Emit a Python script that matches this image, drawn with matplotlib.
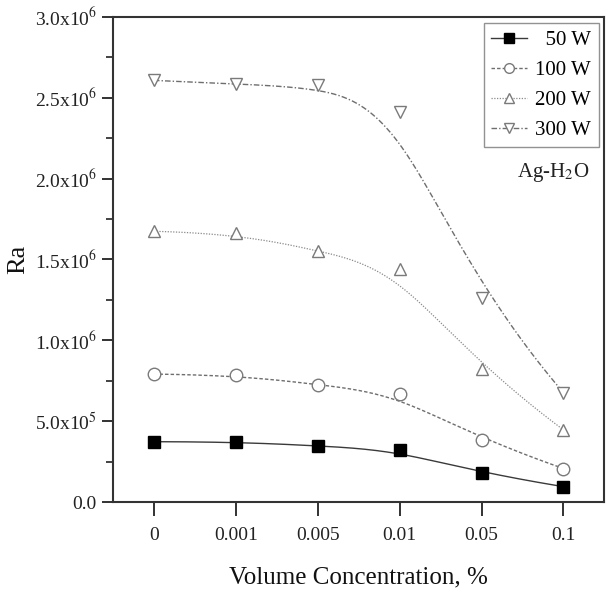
import numpy as np
import matplotlib
matplotlib.use("Agg")
import matplotlib.pyplot as plt
from matplotlib.ticker import MultipleLocator, FuncFormatter

plt.rcParams['font.family'] = 'serif'
plt.rcParams['font.serif'] = ['Liberation Serif', 'DejaVu Serif']
plt.rcParams['mathtext.fontset'] = 'stix'

# data
concentrations = ["0", "0.001", "0.005", "0.01", "0.05", "0.1"]
ra_50w = [3.73e5, 3.72e5, 3.47e5, 3.20e5, 1.78e5, 0.95e5]
ra_100w = [7.91e5, 7.85e5, 7.25e5, 6.69e5, 3.84e5, 2.07e5]
ra_200w = [1.674e6, 1.661e6, 1.554e6, 1.438e6, 8.22e5, 4.46e5]
ra_300w = [2.607e6, 2.583e6, 2.576e6, 2.411e6, 1.264e6, 6.76e5]


def bspline(cx, cy, n=300, k=3):
    # clamped B-spline using the data points as control points
    cx = np.asarray(cx, float)
    cy = np.asarray(cy, float)
    m = len(cx)
    t = np.concatenate([[0.0] * k, np.linspace(0, 1, m - k + 1), [1.0] * k])
    u = np.linspace(0, 1, n)
    u[-1] -= 1e-9
    N = np.array([(u >= t[i]) & (u < t[i + 1]) for i in range(len(t) - 1)], float)
    for d in range(1, k + 1):
        Nn = np.zeros((len(t) - 1 - d, n))
        for i in range(len(t) - 1 - d):
            a = t[i + d] - t[i]
            b = t[i + d + 1] - t[i + 1]
            left = (u - t[i]) / a * N[i] if a > 0 else 0
            right = (t[i + d + 1] - u) / b * N[i + 1] if b > 0 else 0
            Nn[i] = left + right
        N = Nn
    return N.T @ cx, N.T @ cy


fig = plt.figure(figsize=(6.09, 5.92), dpi=100)
ax = fig.add_axes([0.1855, 0.152, 0.807, 0.8196])

x = np.arange(len(concentrations))
series = [
    (ra_50w, "  50 W", "s", "black", "#3a3a3a", "-", 1.0),
    (ra_100w, "100 W", "o", "white", "#6e6e6e", (0, (2.5, 1.5)), 1.0),
    (ra_200w, "200 W", "^", "white", "#8a8a8a", (0, (1, 1.2)), 0.9),
    (ra_300w, "300 W", "v", "white", "#6e6e6e", (0, (4, 1.5, 1, 1.5)), 1.0),
]
handles = []
for vals, label, mk, mfc, col, ls, lw in series:
    mec = "black" if mk == "s" else "#7a7a7a"
    sx, sy = bspline(x, vals)
    ax.plot(sx, sy, color=col, linestyle=ls, linewidth=lw, zorder=2)
    ax.plot(x, vals, linestyle="none", marker=mk, markersize=9,
            markerfacecolor=mfc, markeredgecolor=mec, markeredgewidth=1.0, zorder=3)
    h, = ax.plot([], [], color=col, linestyle=ls, linewidth=lw, marker=mk, markersize=7,
                 markerfacecolor=mfc, markeredgecolor=mec, label=label)
    handles.append(h)

ax.set_xlim(-0.5, 5.5)
ax.set_ylim(0, 3.0e6)
ax.set_xticks(x)
ax.set_xticklabels(concentrations)
ax.yaxis.set_major_locator(MultipleLocator(5e5))
ax.yaxis.set_minor_locator(MultipleLocator(2.5e5))


def fmt(v, pos):
    if abs(v) < 1:
        return "0.0"
    if v < 0:
        return ""
    e = int(np.floor(np.log10(v)))
    return f"{v / 10 ** e:.1f}x10$^{{{e}}}$"


ax.yaxis.set_major_formatter(FuncFormatter(fmt))
ax.tick_params(axis='both', which='major', direction='out', length=8, width=1.3,
               labelsize=14, colors='#222222')
ax.tick_params(axis='x', which='major', length=10, pad=8)
ax.tick_params(axis='y', which='minor', direction='out', length=5, width=1.2, colors='#222222')
for s in ax.spines.values():
    s.set_linewidth(1.5)
    s.set_color('#333333')

ax.set_xlabel("Volume Concentration, %", fontsize=18, labelpad=16, color='#111111')
ax.set_ylabel("Ra", fontsize=19, labelpad=4, color='#111111')

leg = ax.legend(handles=handles, loc='upper right', bbox_to_anchor=(0.988, 0.987),
                borderaxespad=0, fontsize=15, frameon=True, fancybox=False,
                handlelength=1.7, handletextpad=0.4, labelspacing=0.5, borderpad=0.35)
leg.get_frame().set_edgecolor('#777777')
leg.get_frame().set_linewidth(1.0)

ax.text(0.97, 0.68, "Ag-H$_2$O", transform=ax.transAxes, ha='right', va='center',
        fontsize=15, color='#222222')

fig.savefig("out.png", dpi=100)
